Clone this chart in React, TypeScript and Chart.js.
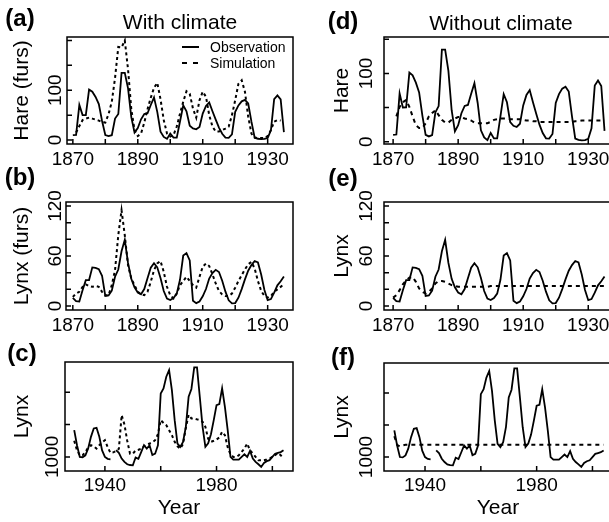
import React, { useEffect, useRef } from "react";
import { Chart, registerables } from "chart.js";
Chart.register(...registerables);

const FONT = "'Liberation Sans', Arial, Helvetica, sans-serif";

// ---------- data ----------
const furYears = [
  1870, 1871, 1872, 1873, 1874, 1875, 1876, 1877, 1878, 1879,
  1880, 1881, 1882, 1883, 1884, 1885, 1886, 1887, 1888, 1889,
  1890, 1891, 1892, 1893, 1894, 1895, 1896, 1897, 1898, 1899,
  1900, 1901, 1902, 1903, 1904, 1905, 1906, 1907, 1908, 1909,
  1910, 1911, 1912, 1913, 1914, 1915, 1916, 1917, 1918, 1919,
  1920, 1921, 1922, 1923, 1924, 1925, 1926, 1927, 1928, 1929,
  1930, 1931, 1932, 1933, 1934, 1935,
];
const hareObs = [
  9.95, 10.44, 70.64, 50.12, 50.13, 101.25, 97.12, 86.51, 72.17, 38.32,
  10.11, 7.74, 9.67, 43.12, 52.21, 134.85, 134.86, 103.79, 46.1, 15.03,
  24.2, 41.65, 52.34, 53.78, 70.4, 85.81, 56.69, 16.59, 6.16, 2.3,
  12.82, 4.72, 4.73, 37.22, 69.72, 57.78, 28.68, 23.37, 21.54, 26.34,
  53.1, 68.48, 75.58, 57.92, 40.97, 24.95, 12.59, 4.97, 4.5, 11.21,
  56.6, 69.63, 77.74, 80.53, 73.38, 36.93, 4.64, 2.54, 1.8, 2.39,
  4.23, 19.52, 82.11, 89.76, 81.66, 15.76,
];
const lynxObs = [
  9.83, 5.8, 5.26, 18.91, 30.95, 31.18, 46.34, 45.77, 44.15, 36.33,
  12.03, 12.6, 18.34, 35.14, 43.77, 65.69, 79.35, 51.65, 32.59, 22.45,
  16.16, 14.12, 20.38, 33.33, 46, 51.41, 46.43, 33.68, 18.01, 8.86,
  7.13, 9.47, 14.86, 31.47, 60.57, 63.51, 54.7, 6.3, 3.41, 5.44,
  11.65, 20.35, 32.88, 39.55, 43.36, 40.83, 30.36, 17.18, 6.82, 3.19,
  3.52, 9.94, 20.3, 31.99, 42.36, 49.08, 53.99, 52.25, 37.7, 19.14,
  6.98, 8.31, 16.01, 24.82, 29.7, 35.4,
];
const hareSimClimate = [
  null, 15, 28, 40, 43, 45, 43, 41, 39, 36,
  35, 52, 77, 125, 187, 186, 200, 142, 62, 20,
  8, 13, 35, 62, 85, 105, 115, 82, 40, 13,
  7, 10, 27, 53, 77, 98, 93, 63, 45, 80,
  97, 87, 50, 27, 17, 17, 20, 23, 27, 50,
  80, 113, 120, 97, 47, 13, 5, 4, 4, 4,
  8, 20, 37, 40, 39, null,
];
const lynxSimClimate = [
  11, 15, 17, 23, 26, 24, 23, 24, 23, 17,
  13, 13, 25, 43, 85, 115, 85, 49, 33, 25,
  17, 14, 13, 17, 29, 43, 51, 54, 41, 23,
  13, 9, 15, 25, 30, 35, 30, 25, 22, 35,
  47, 51, 48, 38, 27, 18, 14, 12, 12, 15,
  22, 30, 37, 44, 50, 53, 45, 30, 18, 12,
  10, 12, 17, 20, 23, 26,
];
const hareSimNoClimate = [
  null, 37, 51, 58, 61, 51, 37, 24, 20, 20,
  27, 37, 42, 46, 39, 32, 28, 28, 32, 34,
  36, 36, 34, 33, 31, 28, 27, 27, 27, 27,
  29, 32, 33, 34, 34, 34, 33, 33, 33, 33,
  32, 31, 31, 30, 30, 29, 29, 29, 29, 29,
  29, 29, 29, 29, 29, 29, 30, 30, 31, 31,
  31, 31, 31, 31, 31, 31,
];
const lynxSimNoClimate = [
  10, 13, 19, 26, 31, 34, 35, 29, 21, 17,
  15, 17, 21, 27, 30, 30, 29, 27, 25, 24,
  23, 23, 23, 23, 23, 23, 23, 23, 23, 23,
  24, 24, 24, 24, 24, 24, 24, 24, 24, 24,
  24, 24, 24, 24, 24, 24, 24, 24, 24, 24,
  24, 24, 24, 24, 24, 24, 24, 24, 24, 24,
  24, 24, 24, 24, 24, 24,
];

const recentYears = [
  1929, 1930, 1931, 1932, 1933, 1934, 1935, 1936, 1937, 1938,
  1939, 1940, 1941, 1942, 1943, 1944, 1945, 1946, 1947, 1948,
  1949, 1950, 1951, 1952, 1953, 1954, 1955, 1956, 1957, 1958,
  1959, 1960, 1961, 1962, 1963, 1964, 1965, 1966, 1967, 1968,
  1969, 1970, 1971, 1972, 1973, 1974, 1975, 1976, 1977, 1978,
  1979, 1980, 1981, 1982, 1983, 1984, 1985, 1986, 1987, 1988,
  1989, 1990, 1991, 1992, 1993, 1994, 1995, 1996, 1997, 1998,
  1999, 2000, 2001, 2002, 2003, 2004,
];
const lynxRecentObs = [
  1830, 1360, 1000, 990, 1050, 1260, 1620, 1880, 1900, 1620,
  1200, 1000, 940, 925, null, 1210, 1124, 948, 845, 773,
  750, 740, 980, 940, 1150, 1360, 1260, 1360, 1060, 1100,
  1360, 2960, 3116, 3477, 3683, 3064, 2135, 1413, 1310, 1464,
  1929, 2858, 3100, 3766, 3766, 2858, 1929, 1310, 1420, 1700,
  2135, 2600, 2630, 3116, 2548, 1826, 1000, 917, 917, 917,
  1000, 1080, 1000, 1186, 948, 845, 773, 690, 814, 870,
  900, 1000, 1100, 1124, 1150, 1206,
];
const lynxRecentSimClimate = [
  1500, 1207, 1052, 1052, 1150, 1290, 1361, 1330, 1258, 1361,
  1450, 1516, 1300, 1124, 1140, 1180, 1250, 2290, 2000, 1500,
  1100, 1100, 1200, 1220, 1250, 1330, 1380, 1413, 1450, 1516,
  1700, 2135, 2050, 1980, 1826, 1671, 1465, 1330, 1258, 1400,
  1900, 2300, 2190, 2187, 2160, 2135, 2084, 1929, 1560, 1465,
  1500, 1540, 1600, 1774, 1671, 1300, 1080, 1000, 1000, 1052,
  1155, 1258, 1413, 1200, 1103, 1000, 897, 897, 897, 920,
  948, 1000, 1052, 1124, 1052, 948,
];
const lynxRecentSimNoClimate = [
  1650, 1380, 1330, 1360, 1382, 1382, 1382, 1382, 1382, 1382,
  1382, 1382, 1382, 1382, 1382, 1382, 1382, 1382, 1382, 1382,
  1382, 1382, 1382, 1382, 1382, 1382, 1382, 1382, 1382, 1382,
  1382, 1382, 1382, 1382, 1382, 1382, 1382, 1382, 1382, 1382,
  1382, 1382, 1382, 1382, 1382, 1382, 1382, 1382, 1382, 1382,
  1382, 1382, 1382, 1382, 1382, 1382, 1382, 1382, 1382, 1382,
  1382, 1382, 1382, 1382, 1382, 1382, 1382, 1382, 1382, 1382,
  1382, 1382, 1382, 1382, 1382, 1382,
];

// ticks
const furTicks = [1870, 1880, 1890, 1900, 1910, 1920, 1930];
const furTickLabels = ["1870", "", "1890", "", "1910", "", "1930"];
const recentTicks = [1940, 1960, 1980, 2000];
const recentTickLabels = ["1940", "", "1980", ""];
const hareTicksA = [0, 50, 100, 150, 200];
const hareLabelsA = ["0", "", "100", "", ""];
const hareTicksD = [0, 50, 100, 150];
const hareLabelsD = ["0", "", "100", ""];
const lynxTicks = [0, 20, 40, 60, 80, 100, 120];
const lynxLabels = ["0", "", "", "60", "", "", "120"];
const recentLynxTicks = [1000, 2000, 3000];
const recentLynxLabels = ["1000", "", ""];

// ---------- layout / style ----------
const TICK_PX = 19;
const TITLE_PX = 21;

type Panel = {
  id: string;
  col: number;
  box: { l: number; t: number; r: number; b: number };
  xr: [number, number];
  yr: [number, number];
  years: number[];
  obs: (number | null)[];
  sim: (number | null)[];
  dash: number[];
  xTicks: number[];
  xLabels: string[];
  yTicks: number[];
  yLabels: string[];
  yTitle: string;
  yTitleX: number;
  yLabelX: number;
  xLabelY: number;
  xTitle?: string;
  xTitleY?: number;
};

const panels: Panel[] = [
  { id: "a", col: 0, box: { l: 67, t: 37, r: 293, b: 144 }, xr: [1868.2, 1937.8], yr: [-8, 207],
    years: furYears, obs: hareObs, sim: hareSimClimate, dash: [3, 3], xTicks: furTicks, xLabels: furTickLabels,
    yTicks: hareTicksA, yLabels: hareLabelsA, yTitle: "Hare (furs)", yTitleX: 22, yLabelX: 56, xLabelY: 160 },
  { id: "b", col: 0, box: { l: 66, t: 202, r: 293, b: 310 }, xr: [1867.9, 1937.8], yr: [-4.8, 124.8],
    years: furYears, obs: lynxObs, sim: lynxSimClimate, dash: [3, 3], xTicks: furTicks, xLabels: furTickLabels,
    yTicks: lynxTicks, yLabels: lynxLabels, yTitle: "Lynx (furs)", yTitleX: 22, yLabelX: 56, xLabelY: 326 },
  { id: "c", col: 0, box: { l: 65, t: 362, r: 293, b: 471 }, xr: [1925.7, 2007.4], yr: [565, 3932],
    years: recentYears, obs: lynxRecentObs, sim: lynxRecentSimClimate, dash: [3, 3], xTicks: recentTicks,
    xLabels: recentTickLabels, yTicks: recentLynxTicks, yLabels: recentLynxLabels, yTitle: "Lynx", yTitleX: 22,
    yLabelX: 53, xLabelY: 486, xTitle: "Year", xTitleY: 508 },
  { id: "d", col: 305, box: { l: 384, t: 37, r: 612, b: 144 }, xr: [1867.2, 1937.3], yr: [-3.4, 153.4],
    years: furYears, obs: hareObs, sim: hareSimNoClimate, dash: [4, 4], xTicks: furTicks, xLabels: furTickLabels,
    yTicks: hareTicksD, yLabels: hareLabelsD, yTitle: "Hare", yTitleX: 342, yLabelX: 367, xLabelY: 160 },
  { id: "e", col: 305, box: { l: 384, t: 202, r: 612, b: 310 }, xr: [1867.2, 1937.3], yr: [-4.8, 124.8],
    years: furYears, obs: lynxObs, sim: lynxSimNoClimate, dash: [4, 4], xTicks: furTicks, xLabels: furTickLabels,
    yTicks: lynxTicks, yLabels: lynxLabels, yTitle: "Lynx", yTitleX: 342, yLabelX: 367, xLabelY: 326 },
  { id: "f", col: 305, box: { l: 384, t: 363, r: 612, b: 471 }, xr: [1925.3, 2007.0], yr: [565, 3932],
    years: recentYears, obs: lynxRecentObs, sim: lynxRecentSimNoClimate, dash: [4, 4], xTicks: recentTicks,
    xLabels: recentTickLabels, yTicks: recentLynxTicks, yLabels: recentLynxLabels, yTitle: "Lynx", yTitleX: 342,
    yLabelX: 367, xLabelY: 486, xTitle: "Year", xTitleY: 508 },
];

const PAD_T = 22;
const PAD_R = 3;

let measureCtx: CanvasRenderingContext2D | null = null;
function textWidth(s: string, px: number) {
  if (!measureCtx) measureCtx = document.createElement("canvas").getContext("2d");
  if (!measureCtx) return 0;
  measureCtx.font = `${px}px ${FONT}`;
  return measureCtx.measureText(s).width;
}

function canvasRect(p: Panel) {
  const left = p.col;
  const top = p.box.t - PAD_T;
  const width = p.box.r - p.col + PAD_R;
  const bottom = p.xTitle ? 522 : p.box.b + 30;
  return { left, top, width, height: bottom - top };
}

const framePlugin = {
  id: "frame",
  afterDatasetsDraw(chart: any) {
    const { ctx, chartArea, scales } = chart;
    const { left, top, right, bottom } = chartArea;
    ctx.save();
    ctx.strokeStyle = "#000";
    ctx.lineWidth = 1.5;
    ctx.strokeRect(left, top, right - left, bottom - top);
    const tl = 5;
    ctx.beginPath();
    scales.x.ticks.forEach((t: any) => {
      const px = scales.x.getPixelForValue(t.value);
      ctx.moveTo(px, bottom);
      ctx.lineTo(px, bottom - tl);
    });
    scales.y.ticks.forEach((t: any) => {
      const py = scales.y.getPixelForValue(t.value);
      ctx.moveTo(left, py);
      ctx.lineTo(left + tl, py);
    });
    ctx.stroke();
    ctx.restore();
  },
};

function PanelChart({ p }: { p: Panel }) {
  const ref = useRef<HTMLCanvasElement>(null);
  const rect = canvasRect(p);
  useEffect(() => {
    if (!ref.current) return;
    const yScaleWidth = p.box.l - p.col;
    const xScaleHeight = rect.top + rect.height - p.box.b;
    const tickLH = TICK_PX * 1.2;
    const titleLH = TITLE_PX * 1.2;
    const widest = Math.max(...p.yLabels.map((s) => textWidth(s, TICK_PX)));
    const yTickPad = p.box.l - p.yLabelX - widest / 2;
    const xTickPad = p.xLabelY - p.box.b - tickLH / 2;
    const yTitlePad = p.yTitleX - p.col - titleLH / 2;
    const xTitlePad = p.xTitleY ? rect.top + rect.height - p.xTitleY - titleLH / 2 : 0;

    const chart = new Chart(ref.current, {
      type: "line",
      data: {
        datasets: [
          {
            data: p.years.map((x, i) => ({ x, y: p.obs[i] })) as any,
            borderColor: "#000",
            borderWidth: 1.8,
            pointRadius: 0,
            tension: 0,
            spanGaps: false,
          },
          {
            data: p.years.map((x, i) => ({ x, y: p.sim[i] })) as any,
            borderColor: "#000",
            borderWidth: 2,
            borderDash: p.dash,
            pointRadius: 0,
            tension: 0,
            spanGaps: false,
          },
        ],
      },
      options: {
        animation: false,
        responsive: false,
        maintainAspectRatio: false,
        events: [],
        layout: { padding: { top: PAD_T, right: PAD_R, left: 0, bottom: 0 } },
        plugins: { legend: { display: false }, tooltip: { enabled: false }, title: { display: false } },
        scales: {
          x: {
            type: "linear",
            min: p.xr[0],
            max: p.xr[1],
            grid: { display: false, drawTicks: false },
            border: { display: false },
            afterBuildTicks: (s: any) => {
              s.ticks = p.xTicks.map((v) => ({ value: v }));
            },
            afterFit: (s: any) => {
              s.height = xScaleHeight;
            },
            ticks: {
              autoSkip: false,
              minRotation: 0,
              maxRotation: 0,
              padding: xTickPad,
              color: "#000",
              font: { family: FONT, size: TICK_PX },
              callback: (v: any) => {
                const i = p.xTicks.indexOf(Number(v));
                return i >= 0 ? p.xLabels[i] : "";
              },
            },
            title: p.xTitle
              ? {
                  display: true,
                  text: p.xTitle,
                  color: "#000",
                  font: { family: FONT, size: TITLE_PX },
                  padding: { top: 0, bottom: xTitlePad },
                }
              : { display: false },
          },
          y: {
            type: "linear",
            min: p.yr[0],
            max: p.yr[1],
            grid: { display: false, drawTicks: false },
            border: { display: false },
            afterBuildTicks: (s: any) => {
              s.ticks = p.yTicks.map((v) => ({ value: v }));
            },
            afterFit: (s: any) => {
              s.width = yScaleWidth;
            },
            ticks: {
              autoSkip: false,
              minRotation: 90,
              maxRotation: 90,
              crossAlign: "center",
              padding: yTickPad,
              color: "#000",
              font: { family: FONT, size: TICK_PX },
              callback: (v: any) => {
                const i = p.yTicks.indexOf(Number(v));
                return i >= 0 ? p.yLabels[i] : "";
              },
            },
            title: {
              display: true,
              text: p.yTitle,
              color: "#000",
              font: { family: FONT, size: TITLE_PX },
              padding: { top: yTitlePad, bottom: 0 },
            },
          },
        },
      } as any,
      plugins: [framePlugin],
    });
    return () => chart.destroy();
  }, []);
  return (
    <canvas
      ref={ref}
      width={rect.width}
      height={rect.height}
      style={{ position: "absolute", left: rect.left, top: rect.top, width: rect.width, height: rect.height }}
    />
  );
}

function Label({ x, y, text, size, bold }: { x: number; y: number; text: string; size: number; bold?: boolean }) {
  return (
    <div
      style={{
        position: "absolute",
        left: x,
        top: y,
        transform: "translate(-50%, -50%)",
        fontFamily: FONT,
        fontSize: size,
        fontWeight: bold ? "bold" : "normal",
        lineHeight: 1,
        whiteSpace: "nowrap",
        color: "#000",
      }}
    >
      {text}
    </div>
  );
}

const panelLetters = [
  { text: "(a)", x: 20, y: 18 },
  { text: "(b)", x: 20, y: 177 },
  { text: "(c)", x: 22, y: 353 },
  { text: "(d)", x: 343, y: 21 },
  { text: "(e)", x: 343, y: 178 },
  { text: "(f)", x: 343, y: 357 },
];
const columnTitles = [
  { text: "With climate", x: 180, y: 21 },
  { text: "Without climate", x: 501, y: 22 },
];
const legendItems = [
  { text: "Observation", dash: "" },
  { text: "Simulation", dash: "5 6" },
];

export default function App() {
  return (
    <div
      style={{
        position: "fixed",
        left: 0,
        top: 0,
        width: 609,
        height: 522,
        overflow: "hidden",
        background: "#fff",
      }}
    >
      {panels.map((p) => (
        <PanelChart key={p.id} p={p} />
      ))}
      {panelLetters.map((l) => (
        <Label key={l.text} x={l.x} y={l.y} text={l.text} size={24} bold />
      ))}
      {columnTitles.map((l) => (
        <Label key={l.text} x={l.x} y={l.y} text={l.text} size={21} />
      ))}
      {legendItems.map((it, i) => (
        <div
          key={it.text}
          style={{ position: "absolute", left: 181, top: 39 + i * 16, height: 16, display: "flex", alignItems: "center" }}
        >
          <svg width={20} height={16} style={{ display: "block" }}>
            <line x1={1} y1={8} x2={18} y2={8} stroke="#000" strokeWidth={2} strokeDasharray={it.dash || undefined} />
          </svg>
          <span style={{ fontFamily: FONT, fontSize: 14, marginLeft: 9, lineHeight: 1, color: "#000" }}>{it.text}</span>
        </div>
      ))}
    </div>
  );
}
